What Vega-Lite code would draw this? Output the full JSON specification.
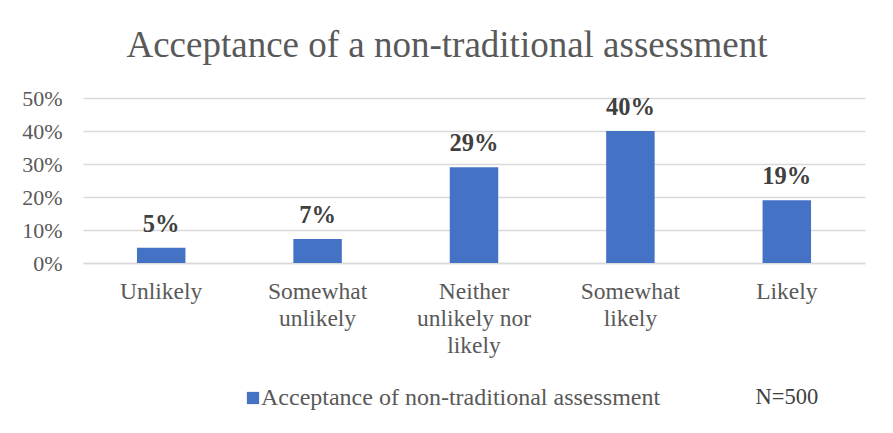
{
  "$schema": "https://vega.github.io/schema/vega-lite/v6.json",
  "width": 782,
  "height": 165,
  "autosize": {"type": "none"},
  "padding": {"left": 83, "top": 98, "right": 28, "bottom": 170},
  "background": "white",
  "config": {
    "view": {"stroke": null},
    "axisY": {
      "labelFont": "Liberation Serif",
      "labelFontSize": 22,
      "labelColor": "#595959",
      "labelPadding": 21,
      "labelOverlap": false,
      "ticks": false,
      "domain": false,
      "grid": true,
      "gridColor": "#d9d9d9",
      "gridWidth": 1.3
    }
  },
  "title": {
    "text": "Acceptance of a non-traditional assessment",
    "font": "Liberation Serif",
    "fontSize": 37,
    "fontWeight": "normal",
    "color": "#595959",
    "anchor": "middle",
    "dx": -27,
    "offset": 22
  },
  "data": {
    "values": [
      {"response": "Unlikely", "share": 0.046, "series": "Acceptance of non-traditional assessment"},
      {"response": "Somewhat unlikely", "share": 0.073, "series": "Acceptance of non-traditional assessment"},
      {"response": "Neither unlikely nor likely", "share": 0.29, "series": "Acceptance of non-traditional assessment"},
      {"response": "Somewhat likely", "share": 0.40, "series": "Acceptance of non-traditional assessment"},
      {"response": "Likely", "share": 0.19, "series": "Acceptance of non-traditional assessment"}
    ]
  },
  "encoding": {
    "x": {
      "field": "response",
      "type": "nominal",
      "sort": null,
      "scale": {"paddingInner": 0.69, "paddingOuter": 0.345},
      "axis": {
        "title": null,
        "labelAngle": 0,
        "labelFont": "Liberation Serif",
        "labelFontSize": 23.5,
        "labelColor": "#595959",
        "labelBaseline": "top",
        "labelPadding": 16,
        "labelLineHeight": 27,
        "labelLimit": 300,
        "ticks": false,
        "domainColor": "#d9d9d9",
        "domainWidth": 1.3,
        "labelExpr": "datum.label == 'Neither unlikely nor likely' ? ['Neither', 'unlikely nor', 'likely'] : split(datum.label, ' ')"
      }
    }
  },
  "layer": [
    {
      "mark": {"type": "bar", "color": "#4472C4"},
      "encoding": {
        "y": {
          "field": "share",
          "type": "quantitative",
          "scale": {"domain": [0, 0.5]},
          "axis": {"title": null, "format": ".0%", "values": [0, 0.1, 0.2, 0.3, 0.4, 0.5]}
        },
        "color": {
          "field": "series",
          "type": "nominal",
          "scale": {"range": ["#4472C4"]},
          "legend": {
            "title": null,
            "orient": "none",
            "legendX": 158,
            "legendY": 288,
            "symbolType": "square",
            "symbolSize": 150,
            "symbolStrokeWidth": 0,
            "labelFont": "Liberation Serif",
            "labelFontSize": 24,
            "labelColor": "#595959",
            "labelLimit": 600,
            "labelOffset": -4
          }
        }
      }
    },
    {
      "mark": {
        "type": "text",
        "font": "Liberation Serif",
        "fontSize": 24.5,
        "fontWeight": "bold",
        "color": "#404040",
        "baseline": "alphabetic",
        "dy": -16
      },
      "encoding": {
        "y": {
          "field": "share",
          "type": "quantitative",
          "scale": {"domain": [0, 0.5]},
          "axis": {"title": null, "format": ".0%", "values": [0, 0.1, 0.2, 0.3, 0.4, 0.5]}
        },
        "text": {"field": "share", "type": "quantitative", "format": ".0%"}
      }
    },
    {
      "data": {"values": [{"note": "N=500"}]},
      "mark": {
        "type": "text",
        "font": "Liberation Serif",
        "fontSize": 22.5,
        "color": "#404040",
        "baseline": "middle",
        "clip": false
      },
      "encoding": {
        "x": {"datum": "Likely"},
        "y": {
          "datum": -0.405,
          "type": "quantitative",
          "scale": {"domain": [0, 0.5]},
          "axis": {"title": null, "format": ".0%", "values": [0, 0.1, 0.2, 0.3, 0.4, 0.5]}
        },
        "text": {"field": "note"}
      }
    }
  ]
}
